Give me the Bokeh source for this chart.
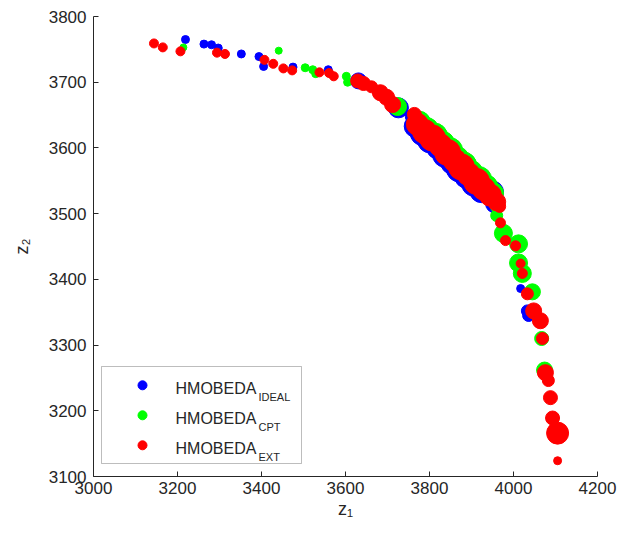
from bokeh.plotting import figure
from bokeh.models import Range1d, Label, BoxAnnotation, FixedTicker
from bokeh.embed import file_html
from bokeh.resources import INLINE

# ---------------- data ----------------
x_ticks = [3000, 3200, 3400, 3600, 3800, 4000, 4200]
y_ticks = [3100, 3200, 3300, 3400, 3500, 3600, 3700, 3800]
x_label = "z\u2081"
y_label = "z\u2082"

series_names = ["HMOBEDA", "HMOBEDA", "HMOBEDA"]
series_subs = ["IDEAL", "CPT", "EXT"]

ideal_z1 = [3219, 3263, 3281, 3297, 3352, 3394, 3405, 3475, 3559, 3631, 3726,
            3759, 3766, 3783, 3802, 3821, 3838, 3855, 3871, 3888, 3907, 3924, 3950, 3955,
            4017, 4033, 4036]
ideal_z2 = [3765, 3758, 3757, 3752, 3743, 3739, 3724, 3723, 3719, 3702, 3661,
            3648, 3633, 3622, 3612, 3601, 3590, 3578, 3568, 3557, 3546, 3535, 3533, 3515,
            3386, 3352, 3345]
ideal_size = [8, 8, 8, 8, 8, 8, 8, 8, 8, 16, 20,
              14, 22, 24, 26, 24, 26, 24, 26, 24, 26, 24, 22, 18,
              8, 12, 12]

cpt_z1 = [3214, 3441, 3504, 3522, 3529, 3602, 3605, 3724,
          3776, 3793, 3812, 3831, 3848, 3865, 3881, 3898, 3917, 3934, 3950,
          3962, 3960, 3976, 4012, 4012, 4021, 4045, 4067, 4074]
cpt_z2 = [3753, 3748, 3722, 3719, 3713, 3709, 3700, 3663,
          3639, 3628, 3618, 3607, 3596, 3584, 3574, 3563, 3552, 3541, 3531,
          3511, 3497, 3470, 3454, 3425, 3409, 3381, 3310, 3262]
cpt_size = [7, 7, 8, 8, 8, 8, 8, 18,
            22, 24, 26, 24, 26, 24, 26, 24, 26, 24, 22,
            14, 12, 18, 18, 18, 18, 16, 14, 16]

ext_z1 = [3144, 3165, 3207, 3294, 3313, 3407, 3428, 3452, 3473, 3538, 3561, 3572,
          3629, 3643, 3662, 3683, 3698, 3712,
          3764, 3771, 3788, 3807, 3826, 3843, 3860, 3876, 3893, 3912, 3929, 3945,
          3960, 3967,
          3969, 3981, 4005, 4017, 4021, 4033, 4048, 4064, 4069, 4076, 4083, 4088,
          4093, 4105, 4105]
ext_z2 = [3759, 3753, 3747, 3745, 3743, 3734, 3728, 3721, 3718, 3715, 3714, 3709,
          3702, 3698, 3693, 3684, 3677, 3666,
          3651, 3636, 3625, 3615, 3604, 3593, 3581, 3571, 3560, 3549, 3538, 3528,
          3518, 3511,
          3486, 3459, 3451, 3424, 3409, 3378, 3352, 3337, 3310, 3258, 3246, 3220,
          3189, 3166, 3124]
ext_size = [9, 9, 9, 9, 9, 9, 9, 9, 9, 9, 9, 9,
            14, 14, 12, 16, 16, 16,
            14, 22, 24, 26, 23, 26, 23, 26, 23, 26, 23, 22,
            18, 12,
            10, 10, 10, 9, 10, 12, 16, 16, 12, 16, 12, 14,
            14, 22, 8]

colors = ["#0000FF", "#00FF00", "#FF0000"]

# ---------------- layout ----------------
W, H = 618, 535
FL, FR, FT, FB = 93, 597, 16, 476
X0, X1, Y0, Y1 = x_ticks[0], x_ticks[-1], y_ticks[0], y_ticks[-1]
FONT = "Liberation Sans"
INK = "#262626"


def dx(px):
    return X0 + (px - FL) * (X1 - X0) / (FR - FL)


def dy(py):
    return Y1 - (py - FT) * (Y1 - Y0) / (FB - FT)


p = figure(width=W, height=H, output_backend="svg", toolbar_location=None,
           x_range=Range1d(X0, X1), y_range=Range1d(Y0, Y1),
           min_border_left=FL, min_border_right=W - FR,
           min_border_top=FT, min_border_bottom=H - FB)
p.outline_line_color = None
p.grid.visible = False
p.background_fill_color = "white"
p.border_fill_color = "white"

p.xaxis.ticker = FixedTicker(ticks=x_ticks)
p.yaxis.ticker = FixedTicker(ticks=y_ticks)
p.xaxis.axis_label = x_label
p.yaxis.axis_label = y_label
for ax in (p.xaxis[0], p.yaxis[0]):
    ax.major_tick_in = 5
    ax.major_tick_out = 0
    ax.minor_tick_line_color = None
    ax.axis_line_color = INK
    ax.major_tick_line_color = INK
    ax.major_label_text_font = FONT
    ax.major_label_text_font_size = "17px"
    ax.major_label_text_color = INK
    ax.axis_label_text_font = FONT
    ax.axis_label_text_font_size = "18px"
    ax.axis_label_text_font_style = "normal"
    ax.axis_label_text_color = INK
p.xaxis.major_label_standoff = 5
p.yaxis.major_label_standoff = 7
p.xaxis.axis_label_standoff = 2
p.yaxis.axis_label_standoff = 14

# ---------------- marks ----------------
for xs, ys, ss, c in ((ideal_z1, ideal_z2, ideal_size, colors[0]),
                      (cpt_z1, cpt_z2, cpt_size, colors[1]),
                      (ext_z1, ext_z2, ext_size, colors[2])):
    p.scatter(xs, ys, size=ss, fill_color=c, line_color=c, line_width=1)

# ---------------- legend ----------------
p.add_layout(BoxAnnotation(left=dx(101), right=dx(301), top=dy(366), bottom=dy(463),
                           fill_color=None, line_color=INK, line_width=1, level="underlay"))
rows = [388.3, 418.3, 448.3]
for i, (name, sub) in enumerate(zip(series_names, series_subs)):
    base = rows[i]
    p.scatter([dx(142)], [dy(base - 3.5)], size=9, fill_color=colors[i], line_color=colors[i])
    p.add_layout(Label(x=dx(175), y=dy(base), text=name, text_font=FONT,
                       text_font_size="16px", text_color=INK, text_baseline="alphabetic"))
    p.add_layout(Label(x=dx(258), y=dy(base + 8), text=sub, text_font=FONT,
                       text_font_size="11px", text_color=INK, text_baseline="alphabetic"))

open("out.html", "w").write(file_html(p, INLINE))
